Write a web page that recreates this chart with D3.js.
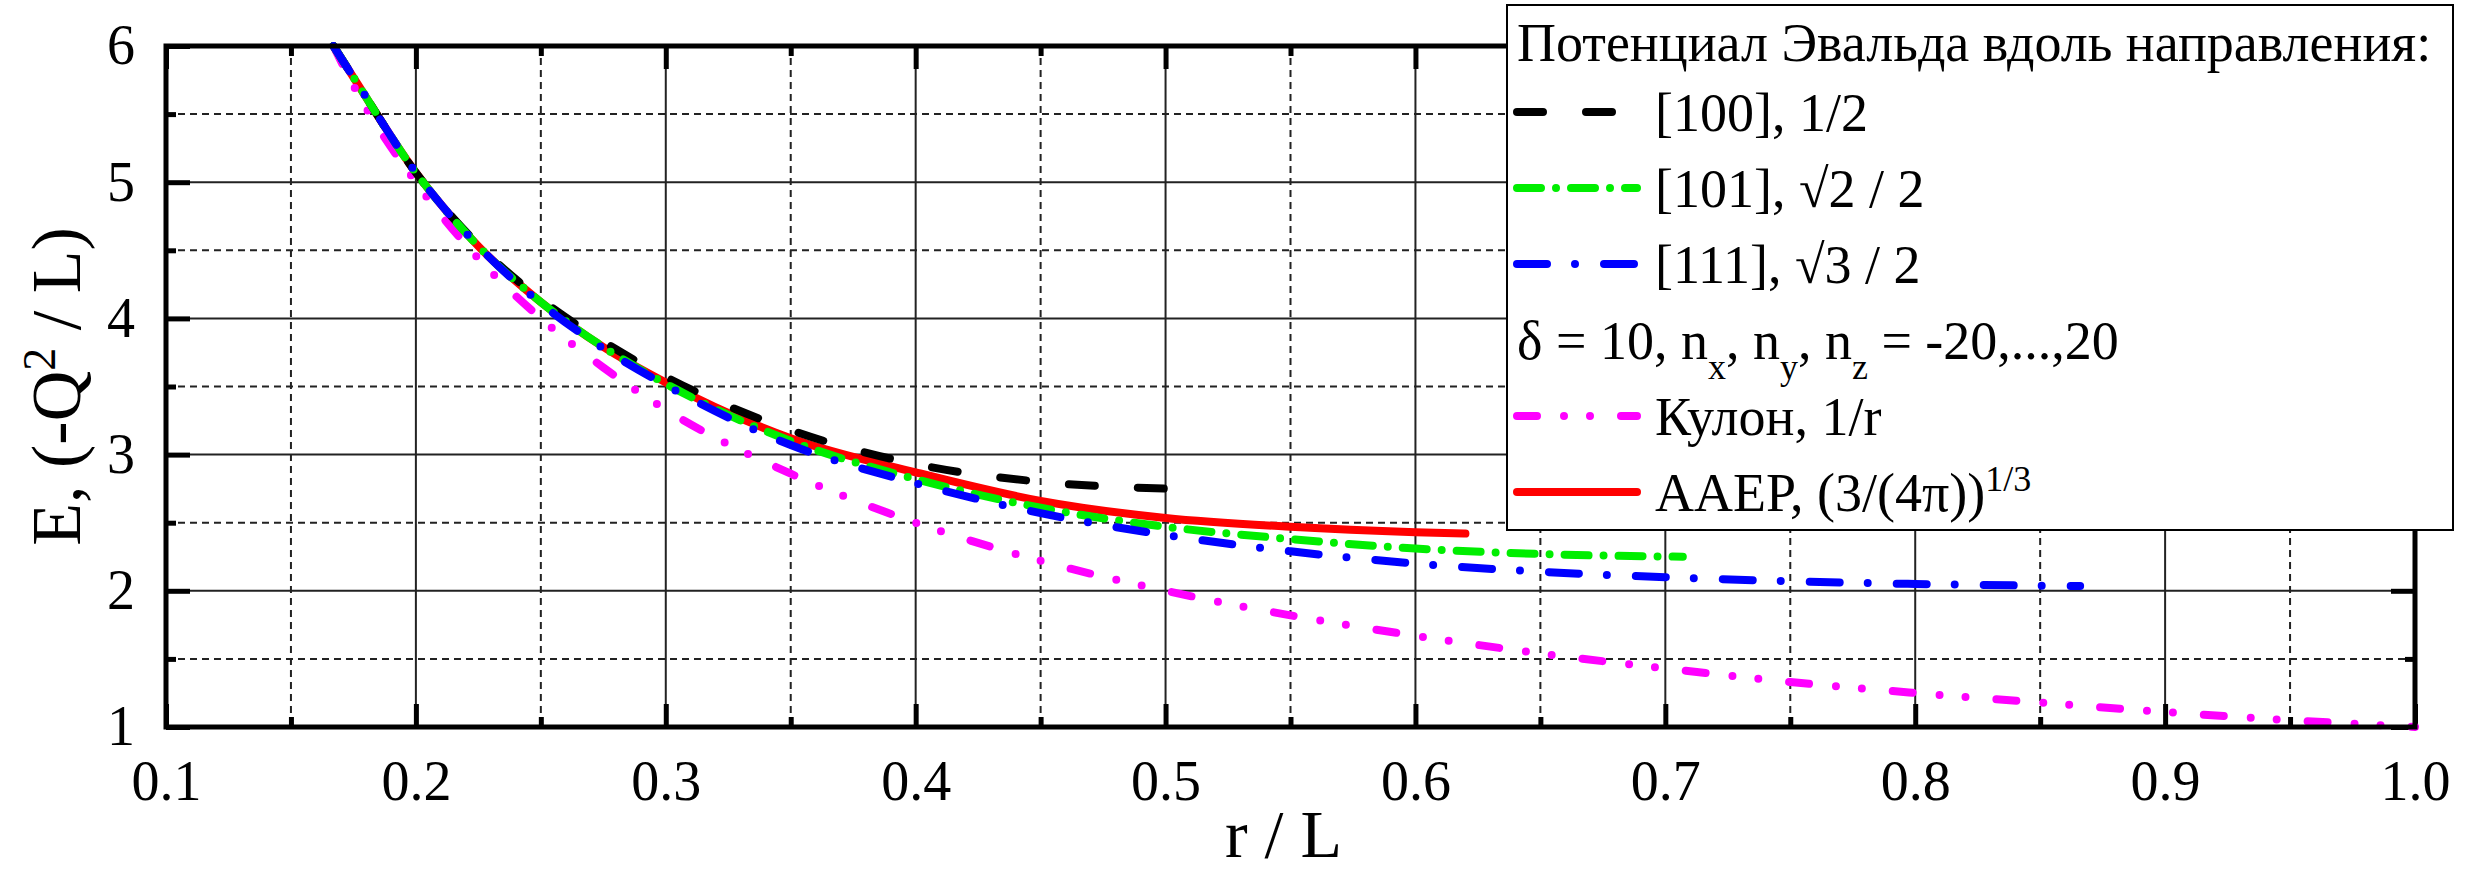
<!DOCTYPE html>
<html>
<head>
<meta charset="utf-8">
<script src="https://cdn.jsdelivr.net/npm/d3@7"></script>
<style>
  body { margin: 0; background: #fff; }
  svg { display: block; font-family: "Liberation Serif", "Times New Roman", serif; }
  .tick text { font-family: "Liberation Serif", "Times New Roman", serif; }
</style>
</head>
<body>
<svg id="chart" width="2479" height="874"></svg>
<script>
// ---- data ----
const xMajor = [0.1, 0.2, 0.3, 0.4, 0.5, 0.6, 0.7, 0.8, 0.9, 1.0];
const xMinor = [0.15, 0.25, 0.35, 0.45, 0.55, 0.65, 0.75, 0.85, 0.95];
const yMajor = [1, 2, 3, 4, 5, 6];
const yMinor = [1.5, 2.5, 3.5, 4.5, 5.5];

// [100], 1/2
const r100 = [0.167, 0.175, 0.2, 0.225, 0.25, 0.275, 0.3, 0.35, 0.4, 0.45, 0.5];
const e100 = [6.0, 5.77, 5.07, 4.54, 4.14, 3.83, 3.57, 3.18, 2.93, 2.80, 2.75];
// [101], sqrt2/2
const r101 = [0.167, 0.175, 0.2, 0.225, 0.25, 0.275, 0.3, 0.35, 0.4, 0.45, 0.5, 0.55, 0.6, 0.65, 0.707];
const e101 = [6.0, 5.77, 5.07, 4.53, 4.12, 3.79, 3.52, 3.10, 2.82, 2.61, 2.47, 2.38, 2.31, 2.27, 2.25];
// [111], sqrt3/2
const r111 = [0.167, 0.175, 0.2, 0.225, 0.25, 0.275, 0.3, 0.35, 0.4, 0.45, 0.5, 0.55, 0.6, 0.65, 0.7, 0.75, 0.8, 0.866];
const e111 = [6.0, 5.77, 5.07, 4.53, 4.11, 3.78, 3.51, 3.07, 2.79, 2.57, 2.41, 2.29, 2.20, 2.14, 2.10, 2.07, 2.05, 2.035];
// Coulomb, 1/r
const rCoul = [0.167, 0.175, 0.2, 0.225, 0.25, 0.275, 0.3, 0.35, 0.4, 0.45, 0.5, 0.55, 0.6, 0.65, 0.7, 0.75, 0.8, 0.85, 0.9, 0.95, 1.0];
const eCoul = [6.0, 5.71, 5.0, 4.44, 4.0, 3.64, 3.33, 2.86, 2.5, 2.22, 2.0, 1.82, 1.67, 1.54, 1.43, 1.33, 1.25, 1.18, 1.11, 1.05, 1.0];
// AAEP, (3/(4pi))^(1/3)
const rAaep = [0.167, 0.175, 0.2, 0.225, 0.25, 0.275, 0.3, 0.35, 0.4, 0.45, 0.5, 0.55, 0.6, 0.62];
const eAaep = [6.0, 5.77, 5.07, 4.53, 4.12, 3.79, 3.53, 3.12, 2.87, 2.66, 2.535, 2.47, 2.43, 2.42];

// ---- layout ----
const width = 2479, height = 874;
const margin = {top: 46, right: 64, bottom: 147, left: 166};
const w = width - margin.left - margin.right;
const h = height - margin.top - margin.bottom;

const svg = d3.select("#chart");
const g = svg.append("g").attr("transform", "translate(" + margin.left + "," + margin.top + ")");

const x = d3.scaleLinear().domain([0.1, 1.0]).range([0, w]);
const y = d3.scaleLinear().domain([1, 6]).range([h, 0]);

// grid
let grid = g.append("g");
grid.selectAll("line.vmaj").data(xMajor.slice(1, -1)).enter().append("line")
    .attr("x1", d => x(d)).attr("x2", d => x(d)).attr("y1", 0).attr("y2", h)
    .attr("stroke", "#222").attr("stroke-width", 2);
grid.selectAll("line.vmin").data(xMinor).enter().append("line")
    .attr("x1", d => x(d)).attr("x2", d => x(d)).attr("y1", 0).attr("y2", h)
    .attr("stroke", "#222").attr("stroke-width", 2).attr("stroke-dasharray", "7,5");
grid.selectAll("line.hmaj").data(yMajor.slice(1, -1)).enter().append("line")
    .attr("x1", 0).attr("x2", w).attr("y1", d => y(d)).attr("y2", d => y(d))
    .attr("stroke", "#222").attr("stroke-width", 2);
grid.selectAll("line.hmin").data(yMinor).enter().append("line")
    .attr("x1", 0).attr("x2", w).attr("y1", d => y(d)).attr("y2", d => y(d))
    .attr("stroke", "#222").attr("stroke-width", 2).attr("stroke-dasharray", "7,5");

// axes: ticks point inward on all four sides
function styleAxis(sel, labels) {
    sel.attr("font-family", null);
    sel.select(".domain").remove();
    sel.selectAll(".tick line").attr("stroke", "#000").attr("stroke-width", 5);
    if (labels) {
        sel.selectAll(".tick text").attr("fill", "#000").attr("font-size", 56);
    } else {
        sel.selectAll(".tick text").remove();
    }
}

g.append("g").attr("transform", "translate(0," + h + ")")
    .call(d3.axisBottom(x).tickValues(xMajor).tickSize(-23).tickPadding(33).tickFormat(d3.format(".1f")))
    .call(s => styleAxis(s, true));
g.append("g").attr("transform", "translate(0," + h + ")")
    .call(d3.axisBottom(x).tickValues(xMinor).tickSize(-10))
    .call(s => styleAxis(s, false));
g.append("g")
    .call(d3.axisTop(x).tickValues(xMajor).tickSize(-23))
    .call(s => styleAxis(s, false));
g.append("g")
    .call(d3.axisTop(x).tickValues(xMinor).tickSize(-10))
    .call(s => styleAxis(s, false));

g.append("g")
    .call(d3.axisLeft(y).tickValues(yMajor).tickSize(-24).tickPadding(31).tickFormat(d3.format("d")))
    .call(s => styleAxis(s, true));
g.append("g")
    .call(d3.axisLeft(y).tickValues(yMinor).tickSize(-10))
    .call(s => styleAxis(s, false));
g.append("g").attr("transform", "translate(" + w + ",0)")
    .call(d3.axisRight(y).tickValues(yMajor).tickSize(-24))
    .call(s => styleAxis(s, false));
g.append("g").attr("transform", "translate(" + w + ",0)")
    .call(d3.axisRight(y).tickValues(yMinor).tickSize(-10))
    .call(s => styleAxis(s, false));

// series
const series = [
    {r: rAaep, e: eAaep, color: "#ff0000", dash: null},
    {r: rCoul, e: eCoul, color: "#ff00ff", dash: "20,27,0,26,0,31"},
    {r: r100, e: e100, color: "#000000", dash: "26,43"},
    {r: r101, e: e101, color: "#00ee00", dash: "24,15,0,15"},
    {r: r111, e: e111, color: "#0000ff", dash: "30,28,0,29"}
];

svg.append("clipPath").attr("id", "plotclip").append("rect")
    .attr("x", -4).attr("y", -4).attr("width", w + 8).attr("height", h + 8);

const line = d3.line()
    .x(d => x(d[0]))
    .y(d => y(d[1]))
    .curve(d3.curveMonotoneX);

let curves = g.append("g").attr("clip-path", "url(#plotclip)");
series.forEach(function(s) {
    curves.append("path")
        .datum(s.r.map((v, i) => [v, s.e[i]]))
        .attr("d", line)
        .attr("fill", "none")
        .attr("stroke", s.color)
        .attr("stroke-width", 8)
        .attr("stroke-linecap", "round")
        .attr("stroke-linejoin", "round")
        .attr("stroke-dasharray", s.dash);
});

// frame
g.append("rect")
    .attr("x", 0).attr("y", 0).attr("width", w).attr("height", h)
    .attr("fill", "none").attr("stroke", "#000").attr("stroke-width", 5);

// axis titles
svg.append("text")
    .attr("x", margin.left + w / 2 - 7).attr("y", 857)
    .attr("text-anchor", "middle").attr("font-size", 68)
    .text("r / L");

let yt = svg.append("text")
    .attr("transform", "translate(80," + (margin.top + h / 2) + ") rotate(-90)")
    .attr("text-anchor", "middle").attr("font-size", 70);
yt.append("tspan").text("E, (-Q");
yt.append("tspan").attr("baseline-shift", "super").attr("font-size", 46).text("2");
yt.append("tspan").text(" / L)");

// legend
const legendX = 1507, legendY = 5, legendW = 946, legendH = 525;
const lg = svg.append("g");
lg.append("rect")
    .attr("x", legendX).attr("y", legendY).attr("width", legendW).attr("height", legendH)
    .attr("fill", "#fff").attr("stroke", "#000").attr("stroke-width", 2);

const rowY = i => 36 + 76 * i;
const fs = 54;

lg.append("text").attr("x", 1517).attr("y", 42).attr("dy", "0.35em").attr("font-size", fs)
    .text("Потенциал Эвальда вдоль направления:");

const legendItems = [
    {row: 1, s: series[2], label: "[100], 1/2"},
    {row: 2, s: series[3], label: "[101], √2 / 2"},
    {row: 3, s: series[4], label: "[111], √3 / 2"},
    {row: 5, s: series[1], label: "Кулон, 1/r"},
    {row: 6, s: series[0], label: "AAEP, (3/(4π))"}
];
legendItems.forEach(function(it) {
    let yy = rowY(it.row);
    lg.append("line")
        .attr("x1", 1517).attr("x2", 1637).attr("y1", yy).attr("y2", yy)
        .attr("stroke", it.s.color).attr("stroke-width", 8)
        .attr("stroke-linecap", "round").attr("stroke-dasharray", it.s.dash);
    let t = lg.append("text").attr("x", 1655).attr("y", yy).attr("dy", "0.35em").attr("font-size", fs);
    t.append("tspan").text(it.label);
    if (it.row === 6) {
        t.append("tspan").attr("baseline-shift", "super").attr("font-size", 36).text("1/3");
    }
});

let dt = lg.append("text").attr("x", 1517).attr("y", rowY(4)).attr("dy", "0.35em").attr("font-size", fs);
dt.append("tspan").text("δ = 10, n");
dt.append("tspan").attr("baseline-shift", "sub").attr("font-size", 36).text("x");
dt.append("tspan").text(", n");
dt.append("tspan").attr("baseline-shift", "sub").attr("font-size", 36).text("y");
dt.append("tspan").text(", n");
dt.append("tspan").attr("baseline-shift", "sub").attr("font-size", 36).text("z");
dt.append("tspan").text(" = -20,...,20");
</script>
</body>
</html>
